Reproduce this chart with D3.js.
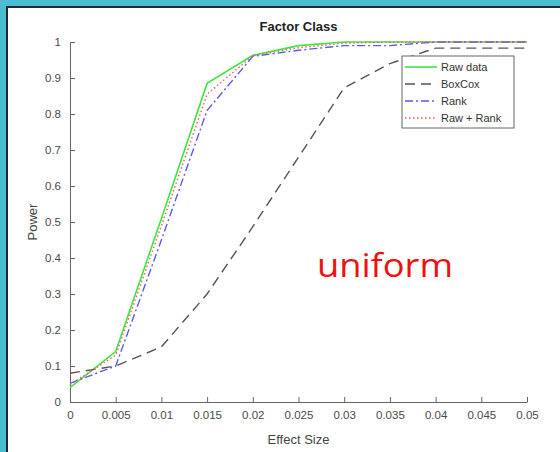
<!DOCTYPE html>
<html>
<head>
<meta charset="utf-8">
<script src="https://cdn.jsdelivr.net/npm/d3@7"></script>
<style>
  body { margin: 0; background: #4cbcd2; }
  svg { display: block; font-family: "Liberation Sans", Arial, sans-serif; }
</style>
</head>
<body>
<div id="chart"></div>
<script>
// effect sizes on the x axis
const effectSizes = [0, 0.005, 0.01, 0.015, 0.02, 0.025, 0.03, 0.035, 0.04, 0.045, 0.05];
const rawData  = [0.04, 0.14, 0.51, 0.885, 0.963, 0.99, 1.0, 1.0, 1.0, 1.0, 1.0];
const boxCox   = [0.08, 0.10, 0.153, 0.30, 0.487, 0.68, 0.873, 0.94, 0.983, 0.983, 0.983];
const rank     = [0.052, 0.10, 0.45, 0.81, 0.96, 0.977, 0.99, 0.99, 1.0, 1.0, 1.0];
const rawRank  = [0.048, 0.13, 0.49, 0.855, 0.962, 0.984, 0.997, 1.0, 1.0, 1.0, 1.0];
const xTicks = [0, 0.005, 0.01, 0.015, 0.02, 0.025, 0.03, 0.035, 0.04, 0.045, 0.05];
const yTicks = [0, 0.1, 0.2, 0.3, 0.4, 0.5, 0.6, 0.7, 0.8, 0.9, 1];

const series = [
  {name: 'Raw data', values: rawData, color: '#3ee83e', dash: null, width: 1.6},
  {name: 'BoxCox', values: boxCox, color: '#555', dash: '10,6', width: 1.4},
  {name: 'Rank', values: rank, color: '#5a5af5', dash: '8,3,2,3', width: 1.4},
  {name: 'Raw + Rank', values: rawRank, color: '#ff5a5a', dash: '1.5,2.5', width: 1.4}
];

const W = 560, H = 452;
let margin = {top: 42, right: 33, bottom: 50, left: 70};
let width = W - margin.left - margin.right;
let height = H - margin.top - margin.bottom;

let root = d3.select('#chart').append('svg')
    .attr('width', W)
    .attr('height', H);

// white panel with dark frame
root.append('rect')
    .attr('x', 7).attr('y', 7)
    .attr('width', W + 10).attr('height', H + 10)
    .attr('fill', '#fff')
    .attr('stroke', '#1c2b33')
    .attr('stroke-width', 2);

let svg = root.append('g')
    .attr('transform', 'translate(' + margin.left + ',' + margin.top + ')');

let x = d3.scaleLinear().domain([0, 0.05]).range([0, width]);
let y = d3.scaleLinear().domain([0, 1]).range([height, 0]);

let xAxis = d3.axisBottom(x)
    .tickValues(xTicks)
    .tickSizeInner(-5)
    .tickSizeOuter(0)
    .tickPadding(9)
    .tickFormat(d => d3.format('~g')(d));

let yAxis = d3.axisLeft(y)
    .tickValues(yTicks)
    .tickSizeInner(-5)
    .tickSizeOuter(0)
    .tickPadding(9)
    .tickFormat(d => d3.format('~g')(d));

let gx = svg.append('g')
    .attr('transform', 'translate(0,' + height + ')')
    .call(xAxis);
let gy = svg.append('g').call(yAxis);

[gx, gy].forEach(g => {
  g.select('.domain').attr('stroke', '#666');
  g.selectAll('.tick line').attr('stroke', '#666');
  g.selectAll('.tick text')
      .attr('fill', '#4a4a4a')
      .attr('font-size', '11.5px')
      .attr('font-family', '"Liberation Sans", Arial, sans-serif');
});

let line = d3.line()
    .x((d, i) => x(effectSizes[i]))
    .y(d => y(d));

series.forEach(s => {
  svg.append('path')
      .datum(s.values)
      .attr('fill', 'none')
      .attr('stroke', s.color)
      .attr('stroke-width', s.width)
      .attr('stroke-dasharray', s.dash)
      .attr('d', line);
});

// title and axis labels
svg.append('text')
    .attr('x', width / 2).attr('y', -11)
    .attr('text-anchor', 'middle')
    .attr('font-size', '13px')
    .attr('font-weight', 'bold')
    .attr('fill', '#222')
    .text('Factor Class');

svg.append('text')
    .attr('x', width / 2).attr('y', height + 42)
    .attr('text-anchor', 'middle')
    .attr('font-size', '13px')
    .attr('fill', '#444')
    .text('Effect Size');

svg.append('text')
    .attr('transform', 'translate(-33,' + (height / 2) + ') rotate(-90)')
    .attr('text-anchor', 'middle')
    .attr('font-size', '13px')
    .attr('fill', '#444')
    .text('Power');

// legend
let legend = svg.append('g')
    .attr('transform', 'translate(' + (width - 125) + ',14)');
legend.append('rect')
    .attr('width', 112).attr('height', 72)
    .attr('fill', '#fff')
    .attr('stroke', '#666');
series.forEach((s, i) => {
  let ly = 11 + i * 17;
  legend.append('line')
      .attr('x1', 3).attr('x2', 35)
      .attr('y1', ly).attr('y2', ly)
      .attr('stroke', s.color)
      .attr('stroke-width', s.width)
      .attr('stroke-dasharray', s.dash);
  legend.append('text')
      .attr('x', 39).attr('y', ly + 4)
      .attr('font-size', '11px')
      .attr('fill', '#333')
      .text(s.name);
});

// hand-written note
svg.append('text')
    .attr('x', 247).attr('y', 235)
    .attr('font-size', '33px')
    .attr('font-family', '"Open Sans", sans-serif')
    .attr('fill', '#f01010')
    .attr('textLength', 136)
    .attr('lengthAdjust', 'spacingAndGlyphs')
    .text('uniform');
</script>
</body>
</html>
